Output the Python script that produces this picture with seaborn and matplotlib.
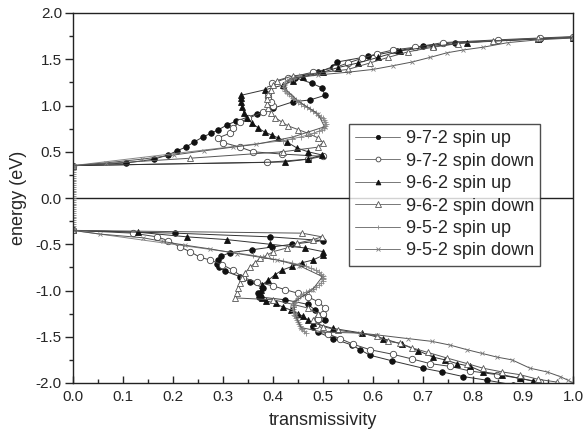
import matplotlib
matplotlib.use("Agg")
import matplotlib.pyplot as plt
from matplotlib.ticker import MultipleLocator
import seaborn as sns

# 9-7-2 spin up (filled circles)
e972u_hi = [0.35, 0.378, 0.42, 0.465, 0.51, 0.551, 0.605, 0.66, 0.70, 0.735, 0.79, 0.83, 0.91, 0.97, 1.04,
            1.06, 1.11, 1.19, 1.24, 1.30, 1.36, 1.42, 1.47, 1.53, 1.59, 1.64, 1.68, 1.72, 1.735]
t972u_hi = [0.0, 0.106, 0.162, 0.19, 0.208, 0.226, 0.242, 0.26, 0.276, 0.29, 0.308, 0.326, 0.368, 0.40, 0.44,
            0.474, 0.504, 0.498, 0.478, 0.444, 0.49, 0.52, 0.528, 0.59, 0.648, 0.70, 0.764, 0.934, 1.0]
e972u_lo = [-0.35, -0.38, -0.42, -0.46, -0.50, -0.53, -0.56, -0.59, -0.63, -0.67, -0.71, -0.75, -0.79, -0.85,
            -0.91, -0.97, -1.03, -1.07, -1.10, -1.15, -1.21, -1.27, -1.32, -1.39, -1.45, -1.52, -1.59, -1.64,
            -1.70, -1.76, -1.84, -1.88, -1.93, -1.97, -2.02]
t972u_lo = [0.0, 0.204, 0.394, 0.5, 0.438, 0.398, 0.358, 0.314, 0.296, 0.29, 0.288, 0.292, 0.304, 0.334,
            0.354, 0.38, 0.37, 0.372, 0.424, 0.47, 0.484, 0.50, 0.504, 0.48, 0.49, 0.52, 0.558, 0.574,
            0.594, 0.638, 0.70, 0.738, 0.78, 0.828, 0.88]

# 9-7-2 spin down (open circles)
e972d_hi = [0.35, 0.385, 0.42, 0.45, 0.475, 0.50, 0.55, 0.60, 0.65, 0.70, 0.76, 0.82, 0.86, 0.93, 0.99, 1.04,
            1.09, 1.13, 1.18, 1.24, 1.30, 1.36, 1.41, 1.46, 1.51, 1.56, 1.60, 1.63, 1.68, 1.71, 1.73, 1.745]
t972d_hi = [0.0, 0.388, 0.47, 0.50, 0.418, 0.36, 0.334, 0.30, 0.29, 0.314, 0.32, 0.334, 0.35, 0.38, 0.40, 0.395,
            0.39, 0.39, 0.392, 0.398, 0.43, 0.48, 0.524, 0.55, 0.578, 0.608, 0.64, 0.684, 0.74, 0.85, 0.934, 1.0]
e972d_lo = [-0.35, -0.38, -0.42, -0.46, -0.53, -0.58, -0.64, -0.67, -0.72, -0.78, -0.86, -0.91, -0.95, -0.99,
            -1.03, -1.07, -1.12, -1.19, -1.25, -1.31, -1.37, -1.42, -1.47, -1.52, -1.58, -1.64, -1.69, -1.74,
            -1.79, -1.82, -1.87, -1.91, -1.95, -1.99]
t972d_lo = [0.0, 0.12, 0.168, 0.19, 0.214, 0.234, 0.254, 0.274, 0.298, 0.32, 0.34, 0.368, 0.40, 0.424,
            0.45, 0.47, 0.49, 0.504, 0.50, 0.49, 0.485, 0.49, 0.51, 0.534, 0.56, 0.594, 0.64, 0.678,
            0.714, 0.754, 0.794, 0.848, 0.894, 0.934]

# 9-6-2 spin up (filled triangles)
e962u_hi = [0.35, 0.39, 0.42, 0.465, 0.50, 0.54, 0.605, 0.65, 0.68, 0.71, 0.76, 0.81, 0.86, 0.92, 0.98, 1.04,
            1.08, 1.11, 1.17, 1.22, 1.27, 1.31, 1.36, 1.41, 1.46, 1.52, 1.59, 1.64, 1.68, 1.72, 1.735]
t962u_hi = [0.0, 0.424, 0.47, 0.498, 0.47, 0.448, 0.428, 0.41, 0.398, 0.384, 0.37, 0.358, 0.348, 0.342, 0.338,
            0.336, 0.336, 0.336, 0.384, 0.42, 0.44, 0.46, 0.50, 0.53, 0.57, 0.61, 0.654, 0.72, 0.788, 0.93, 1.0]
e962u_lo = [-0.35, -0.37, -0.42, -0.45, -0.50, -0.54, -0.58, -0.62, -0.67, -0.70, -0.74, -0.78, -0.83, -0.89,
            -0.94, -0.99, -1.04, -1.08, -1.11, -1.14, -1.18, -1.21, -1.25, -1.28, -1.32, -1.35, -1.41, -1.46,
            -1.52, -1.58, -1.65, -1.72, -1.75, -1.79, -1.82, -1.88, -1.91, -1.95, -1.98]
t962u_lo = [0.0, 0.13, 0.228, 0.308, 0.394, 0.464, 0.5, 0.5, 0.48, 0.458, 0.438, 0.418, 0.404, 0.39,
            0.378, 0.375, 0.375, 0.378, 0.385, 0.405, 0.42, 0.435, 0.45, 0.46, 0.47, 0.48, 0.52, 0.578,
            0.62, 0.658, 0.69, 0.72, 0.744, 0.768, 0.794, 0.82, 0.858, 0.894, 0.92]

# 9-6-2 spin down (open triangles)
e962d_hi = [0.35, 0.43, 0.50, 0.55, 0.60, 0.65, 0.70, 0.74, 0.78, 0.82, 0.87, 0.92, 0.97, 1.02, 1.07, 1.12,
            1.17, 1.22, 1.27, 1.32, 1.39, 1.46, 1.52, 1.58, 1.63, 1.67, 1.70, 1.725, 1.74]
t962d_hi = [0.0, 0.234, 0.42, 0.49, 0.50, 0.49, 0.47, 0.45, 0.43, 0.418, 0.404, 0.395, 0.39, 0.388, 0.388, 0.39,
            0.395, 0.40, 0.408, 0.44, 0.55, 0.594, 0.63, 0.67, 0.72, 0.77, 0.84, 0.93, 1.0]
e962d_lo = [-0.35, -0.38, -0.42, -0.45, -0.49, -0.54, -0.58, -0.62, -0.65, -0.70, -0.75, -0.81, -0.86, -0.92,
            -0.97, -1.03, -1.08, -1.10, -1.15, -1.19, -1.25, -1.32, -1.39, -1.43, -1.49, -1.55, -1.57, -1.62,
            -1.67, -1.73, -1.79, -1.84, -1.88, -1.91, -1.96, -1.99]
t962d_lo = [0.0, 0.458, 0.498, 0.48, 0.448, 0.428, 0.40, 0.388, 0.374, 0.364, 0.354, 0.344, 0.338, 0.334,
            0.33, 0.328, 0.324, 0.40, 0.44, 0.47, 0.49, 0.48, 0.50, 0.53, 0.608, 0.63, 0.654, 0.678,
            0.71, 0.748, 0.788, 0.82, 0.858, 0.894, 0.93, 0.968]

# 9-5-2 spin up (plus, densely sampled)
e952u_gap = [-0.34, -0.32, -0.30, -0.28, -0.26, -0.24, -0.22, -0.20, -0.18, -0.16, -0.14, -0.12, -0.10, -0.08,
             -0.06, -0.04, -0.02, 0.0, 0.02, 0.04, 0.06, 0.08, 0.10, 0.12, 0.14, 0.16, 0.18, 0.20, 0.22, 0.24,
             0.26, 0.28, 0.30, 0.32, 0.34]
t952u_gap = [0.0, 0.0, 0.0, 0.0, 0.0, 0.0, 0.0, 0.0, 0.0, 0.0, 0.0, 0.0, 0.0, 0.0,
             0.0, 0.0, 0.0, 0.0, 0.0, 0.0, 0.0, 0.0, 0.0, 0.0, 0.0, 0.0, 0.0, 0.0, 0.0, 0.0,
             0.0, 0.0, 0.0, 0.0, 0.0]
e952u_hi = [0.35, 0.62, 0.64, 0.66, 0.68, 0.70, 0.72, 0.74, 0.76, 0.78, 0.80, 0.82, 0.84, 0.86, 0.88, 0.90,
            0.92, 0.94, 0.96, 0.98, 1.00, 1.02, 1.04, 1.06, 1.08, 1.10, 1.12, 1.14, 1.16, 1.18, 1.20, 1.22,
            1.24, 1.26, 1.28, 1.30, 1.32]
t952u_hi = [0.0, 0.42, 0.438, 0.455, 0.469, 0.481, 0.491, 0.497, 0.501, 0.504, 0.505, 0.504, 0.502, 0.499,
            0.495, 0.49, 0.485, 0.479, 0.474, 0.468, 0.462, 0.456, 0.45, 0.445, 0.44, 0.435, 0.431, 0.427,
            0.424, 0.422, 0.421, 0.421, 0.423, 0.427, 0.433, 0.442, 0.452]
e952u_lo = [-0.35, -0.62, -0.64, -0.66, -0.68, -0.70, -0.72, -0.74, -0.76, -0.78, -0.80, -0.82, -0.84, -0.86,
            -0.88, -0.90, -0.92, -0.94, -0.96, -0.98, -1.00, -1.02, -1.04, -1.06, -1.08, -1.10, -1.12, -1.14,
            -1.16, -1.18, -1.20, -1.22, -1.24, -1.26, -1.28, -1.30, -1.32, -1.34, -1.36, -1.38, -1.40, -1.42,
            -1.44, -1.46]
t952u_lo = [0.0, 0.36, 0.38, 0.40, 0.42, 0.437, 0.452, 0.465, 0.476, 0.485, 0.491, 0.496, 0.499, 0.50,
            0.50, 0.499, 0.496, 0.492, 0.486, 0.479, 0.472, 0.465, 0.459, 0.453, 0.449, 0.446, 0.443, 0.441,
            0.44, 0.44, 0.44, 0.44, 0.441, 0.442, 0.444, 0.446, 0.448, 0.45, 0.452, 0.454, 0.456, 0.458,
            0.461, 0.466]

# 9-5-2 spin down (crosses)
e952d_hi = [0.35, 0.38, 0.42, 0.465, 0.51, 0.55, 0.58, 0.66, 0.77, 0.91, 1.05, 1.19, 1.29, 1.33, 1.36, 1.39,
            1.43, 1.47, 1.52, 1.57, 1.60, 1.63, 1.68, 1.71, 1.73]
t952d_hi = [0.0, 0.066, 0.138, 0.202, 0.262, 0.32, 0.366, 0.44, 0.503, 0.49, 0.45, 0.422, 0.433, 0.49, 0.55,
            0.60, 0.64, 0.678, 0.714, 0.748, 0.78, 0.82, 0.87, 0.93, 1.0]
e952d_lo = [-0.35, -0.39, -0.43, -0.47, -0.51, -0.55, -0.60, -0.67, -0.73, -0.85, -0.99, -1.13, -1.27, -1.40,
            -1.45, -1.46, -1.48, -1.52, -1.55, -1.59, -1.64, -1.68, -1.72, -1.75, -1.84, -1.88, -1.93, -1.97,
            -2.0]
t952d_lo = [0.0, 0.054, 0.14, 0.18, 0.224, 0.274, 0.328, 0.408, 0.452, 0.499, 0.479, 0.441, 0.445, 0.456,
            0.50, 0.574, 0.608, 0.67, 0.718, 0.754, 0.788, 0.818, 0.848, 0.878, 0.914, 0.948, 0.974, 0.99,
            1.0]

labels = ["9-7-2 spin up", "9-7-2 spin down", "9-6-2 spin up", "9-6-2 spin down",
          "9-5-2 spin up", "9-5-2 spin down"]

series = [
    (t972u_lo[::-1] + t972u_hi, e972u_lo[::-1] + e972u_hi),
    (t972d_lo[::-1] + t972d_hi, e972d_lo[::-1] + e972d_hi),
    (t962u_lo[::-1] + t962u_hi, e962u_lo[::-1] + e962u_hi),
    (t962d_lo[::-1] + t962d_hi, e962d_lo[::-1] + e962d_hi),
    (t952u_lo[::-1] + t952u_gap + t952u_hi, e952u_lo[::-1] + e952u_gap + e952u_hi),
    (t952d_lo[::-1] + t952d_hi, e952d_lo[::-1] + e952d_hi),
]

styles = [
    dict(marker="o", ms=4.0, mfc="#111111", mec="#111111", color="#333333", lw=0.7, mew=0.6),
    dict(marker="o", ms=4.6, mfc="white", mec="#444444", color="#444444", lw=0.7, mew=0.6),
    dict(marker="^", ms=4.6, mfc="#111111", mec="#111111", color="#333333", lw=0.7, mew=0.6),
    dict(marker="^", ms=5.0, mfc="white", mec="#555555", color="#555555", lw=0.7, mew=0.6),
    dict(marker="+", ms=3.8, mfc="#888888", mec="#888888", color="#888888", lw=0.7, mew=0.6),
    dict(marker="x", ms=3.5, mfc="#888888", mec="#808080", color="#555555", lw=0.7, mew=0.6),
]

sns.set_style("ticks")
plt.rcParams["font.family"] = ["Liberation Sans", "DejaVu Sans"]

fig = plt.figure(figsize=(5.85, 4.43), dpi=100)
ax = fig.add_axes([73 / 585, 1 - 383 / 443, 500 / 585, 370 / 443])

for (t, e), lab, st in zip(series, labels, styles):
    sns.lineplot(x=t, y=e, sort=False, estimator=None, ax=ax, label=lab, **st)

ax.axhline(0.0, color="#222222", lw=1.0, zorder=1)
ax.set_xlim(0.0, 1.0)
ax.set_ylim(-2.0, 2.0)
ax.xaxis.set_major_locator(MultipleLocator(0.1))
ax.xaxis.set_minor_locator(MultipleLocator(0.05))
ax.yaxis.set_major_locator(MultipleLocator(0.5))
ax.yaxis.set_minor_locator(MultipleLocator(0.25))
ax.xaxis.set_major_formatter(plt.FormatStrFormatter("%.1f"))
ax.yaxis.set_major_formatter(plt.FormatStrFormatter("%.1f"))
ax.tick_params(axis="x", which="major", direction="in", length=5, width=1, labelsize=11, pad=5)
ax.tick_params(axis="x", which="minor", direction="in", length=3, width=1)
ax.tick_params(axis="y", which="major", direction="out", length=6, width=1, labelsize=11, pad=2)
ax.tick_params(axis="y", which="minor", direction="out", length=3, width=1)
for sp in ax.spines.values():
    sp.set_linewidth(1.0)
    sp.set_color("#222222")

ax.set_xlabel("transmissivity", fontsize=13, labelpad=6)
ax.set_ylabel("energy (eV)", fontsize=13, labelpad=6)

leg = ax.legend(loc="upper left", bbox_to_anchor=(0.552, 0.70), fontsize=13, frameon=True,
                fancybox=False, edgecolor="#222222", handlelength=2.5, handletextpad=0.3,
                borderpad=0.35, labelspacing=0.3, markerscale=0.75, borderaxespad=0)
leg.get_frame().set_linewidth(1.0)
for line in leg.get_lines():
    line.set_color("#777777")

fig.savefig("out.png", dpi=100)
